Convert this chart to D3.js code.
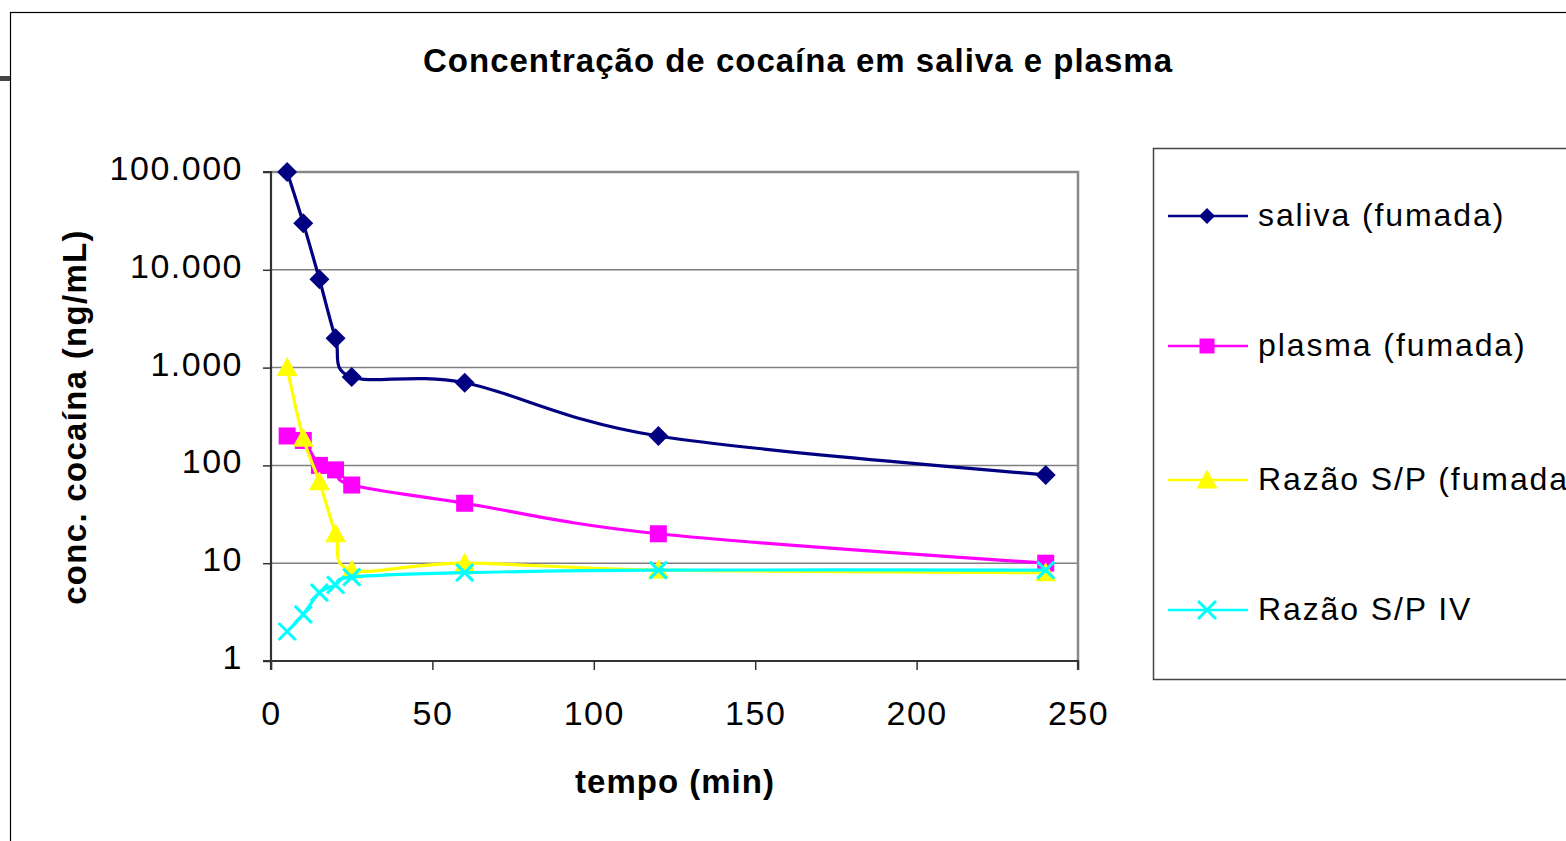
<!DOCTYPE html>
<html><head><meta charset="utf-8">
<script src="https://cdn.jsdelivr.net/npm/d3@7"></script>
<style>
html,body{margin:0;padding:0;background:#fff;overflow:hidden}
text{font-family:"Liberation Sans",Arial,sans-serif}
</style></head><body>
<svg id="c" width="1566" height="841"></svg>
<script>
const times = [5, 10, 15, 20, 25, 60, 120, 240];
const salivaFumada = [100000, 30000, 8000, 2000, 800, 700, 200, 80];
const plasmaFumada = [200, 180, 100, 90, 63, 41, 20, 10];
const razaoFumada = [1000, 190, 68, 20, 8.5, 10, 8.5, 8];
const razaoIV = [2, 3, 5, 6, 7.2, 8, 8.5, 8.5];
const seriesNames = ["saliva (fumada)", "plasma (fumada)", "Razão S/P (fumada)", "Razão S/P IV"];
const xTicks = [0, 50, 100, 150, 200, 250];
const yTicks = [1, 10, 100, 1000, 10000, 100000];
const yTickLabels = ["1", "10", "100", "1.000", "10.000", "100.000"];

const svg = d3.select("#c");
const L = 271, R = 1078, T = 172, B = 661;
const x = d3.scaleLinear().domain([0, 250]).range([L, R]);
const y = d3.scaleLog().domain([1, 100000]).range([B, T]);

// outer chart border
svg.append("rect").attr("x", 10.5).attr("y", 12.5).attr("width", 1600).attr("height", 900)
  .attr("fill", "none").attr("stroke", "#000").attr("stroke-width", 1.2);
svg.append("rect").attr("x", 0).attr("y", 76).attr("width", 10).attr("height", 5).attr("fill", "#444");

// title
svg.append("text").attr("x", 798).attr("y", 72).attr("text-anchor", "middle")
  .attr("font-weight", "bold").attr("font-size", 33).attr("letter-spacing", 1)
  .text("Concentração de cocaína em saliva e plasma");

// gridlines
svg.append("g").selectAll("line").data(yTicks.slice(1)).join("line")
  .attr("x1", L).attr("x2", R).attr("y1", d => y(d)).attr("y2", d => y(d))
  .attr("stroke", "#808080").attr("stroke-width", 1.5);

// plot border top/right
svg.append("path").attr("d", `M${L},${T}H${R}V${B}`).attr("fill", "none")
  .attr("stroke", "#888").attr("stroke-width", 2.5);

// axes
const yAxis = d3.axisLeft(y).tickValues(yTicks).tickFormat((d, i) => yTickLabels[i]).tickSize(8).tickPadding(20);
const gy = svg.append("g").attr("transform", `translate(${L},0)`).call(yAxis);
const xAxis = d3.axisBottom(x).tickValues(xTicks).tickSize(9).tickPadding(48);
const gx = svg.append("g").attr("transform", `translate(0,${B})`).call(xAxis);
[gx, gy].forEach(g => {
  g.select(".domain").attr("stroke", "#333").attr("stroke-width", 2.2);
  g.selectAll(".tick line").attr("stroke", "#333").attr("stroke-width", 1.5);
  g.selectAll(".tick text").attr("font-size", 34).attr("fill", "#000").attr("letter-spacing", 1.5)
    .style("font-family", '"Liberation Sans",Arial,sans-serif');
});
gy.select(".domain").attr("d", `M-8,${T}H0V${B}H-8`);
gy.selectAll(".tick text").attr("dy", "0.22em");
gx.selectAll(".tick text").attr("dy", "0.2em");
gx.select(".domain").attr("d", `M${L},9V0H${R}V9`);

// axis titles
svg.append("text").attr("x", 675).attr("y", 793).attr("text-anchor", "middle")
  .attr("font-weight", "bold").attr("font-size", 33).attr("letter-spacing", 1).text("tempo (min)");
svg.append("text").attr("transform", "translate(86,417) rotate(-90)").attr("text-anchor", "middle")
  .attr("font-weight", "bold").attr("font-size", 33).attr("letter-spacing", 1.3).text("conc. cocaína (ng/mL)");

const colors = ["#000080", "#FF00FF", "#FFFF00", "#00FFFF"];
const data = [salivaFumada, plasmaFumada, razaoFumada, razaoIV];
const line = d3.line().x(d => x(d[0])).y(d => y(d[1])).curve(d3.curveCardinal.tension(0));

function marker(g, type, color, s) {
  if (type === 0) {
    g.append("path").attr("d", `M0,${-s}L${s},0L0,${s}L${-s},0Z`).attr("fill", color);
  } else if (type === 1) {
    g.append("rect").attr("x", -s).attr("y", -s).attr("width", 2 * s).attr("height", 2 * s).attr("fill", color);
  } else if (type === 2) {
    g.append("path").attr("d", `M0,${-s * 1.05}L${s * 1.05},${s * 0.85}L${-s * 1.05},${s * 0.85}Z`).attr("fill", color);
  } else {
    g.append("path").attr("d", `M${-s},${-s}L${s},${s}M${-s},${s}L${s},${-s}`)
      .attr("stroke", color).attr("stroke-width", 3).attr("fill", "none");
  }
}
const msize = [10, 8.5, 10, 8.5];

data.forEach((vals, si) => {
  const pts = times.map((t, i) => [t, vals[i]]);
  svg.append("path").attr("d", line(pts)).attr("fill", "none")
    .attr("stroke", colors[si]).attr("stroke-width", 3.2);
  pts.forEach(p => {
    const g = svg.append("g").attr("transform", `translate(${x(p[0])},${y(p[1])})`);
    marker(g, si, colors[si], msize[si]);
  });
});

// legend
svg.append("rect").attr("x", 1153.5).attr("y", 148.5).attr("width", 500).attr("height", 531)
  .attr("fill", "#fff").attr("stroke", "#444").attr("stroke-width", 1.5);
const legY = [216, 346, 480, 610];
const lsize = [8, 7.5, 10, 9];
seriesNames.forEach((n, i) => {
  svg.append("line").attr("x1", 1168).attr("x2", 1248).attr("y1", legY[i]).attr("y2", legY[i])
    .attr("stroke", colors[i]).attr("stroke-width", 2.6);
  const g = svg.append("g").attr("transform", `translate(1207,${legY[i]})`);
  marker(g, i, colors[i], lsize[i]);
  svg.append("text").attr("x", 1258).attr("y", legY[i] + 10).attr("font-size", 32)
    .attr("letter-spacing", 1.9).text(n);
});
</script></body></html>
